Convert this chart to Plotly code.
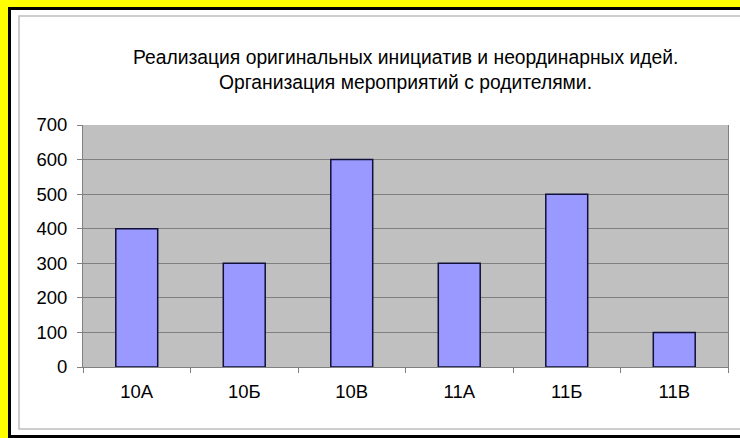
import plotly.graph_objects as go

categories = ["10А", "10Б", "10В", "11А", "11Б", "11В"]
values = [400, 300, 600, 300, 500, 100]
title_line1 = "Реализация оригинальных инициатив и неординарных идей."
title_line2 = "Организация мероприятий с родителями."

W, H = 740, 438
L, R, T, B = 83, 12, 125, 71
pw, ph = W - L - R, H - T - B

def px(x):
    return (x - L) / pw

def py(y):
    return (H - B - y) / ph

fig = go.Figure(go.Bar(
    x=categories, y=values,
    marker=dict(color="#9999FF", line=dict(color="#10103a", width=1.5)),
))

font = "Liberation Sans, Arial, sans-serif"

fig.update_layout(
    width=W, height=H,
    margin=dict(l=L, r=R, t=T, b=B),
    paper_bgcolor="#FFFF00",
    plot_bgcolor="#C0C0C0",
    bargap=0.61,
    showlegend=False,
    font=dict(family=font, size=18, color="black"),
    xaxis=dict(
        type="category", tickson="boundaries", ticks="outside", ticklen=5,
        tickcolor="#808080", showline=True, linecolor="#808080", linewidth=1,
        showgrid=False, tickfont=dict(size=18.5), ticklabelstandoff=8,
    ),
    yaxis=dict(
        range=[0, 700], dtick=100, ticks="outside", ticklen=5,
        tickcolor="#808080", showline=True, linecolor="#808080", linewidth=1,
        mirror=True, gridcolor="#808080", gridwidth=1, zeroline=False,
        tickfont=dict(size=18.5), ticklabelstandoff=6,
    ),
    shapes=[
        dict(type="rect", xref="paper", yref="paper", layer="below",
             x0=px(9.5), x1=px(780), y0=py(8.5), y1=py(436.5),
             fillcolor="white", line=dict(color="black", width=3)),
        dict(type="rect", xref="paper", yref="paper", layer="below",
             x0=px(19), x1=px(780), y0=py(16), y1=py(429),
             fillcolor="rgba(0,0,0,0)", line=dict(color="#bdbdbd", width=1.5)),
        dict(type="rect", xref="paper", yref="paper", layer="below",
             x0=0, x1=1, y0=0, y1=1,
             fillcolor="#C0C0C0", line=dict(width=0)),
    ],
    annotations=[
        dict(text=title_line1, xref="paper", yref="paper", x=0.5, y=py(57),
             yanchor="middle", xanchor="center", showarrow=False,
             font=dict(size=19.3, family=font, color="black")),
        dict(text=title_line2, xref="paper", yref="paper", x=0.5, y=py(83),
             yanchor="middle", xanchor="center", showarrow=False,
             font=dict(size=19.3, family=font, color="black")),
    ],
)

fig.write_html(
    "out.html",
    config={"displayModeBar": False},
    post_script="document.body.style.margin='0';document.body.style.overflow='hidden';",
)
